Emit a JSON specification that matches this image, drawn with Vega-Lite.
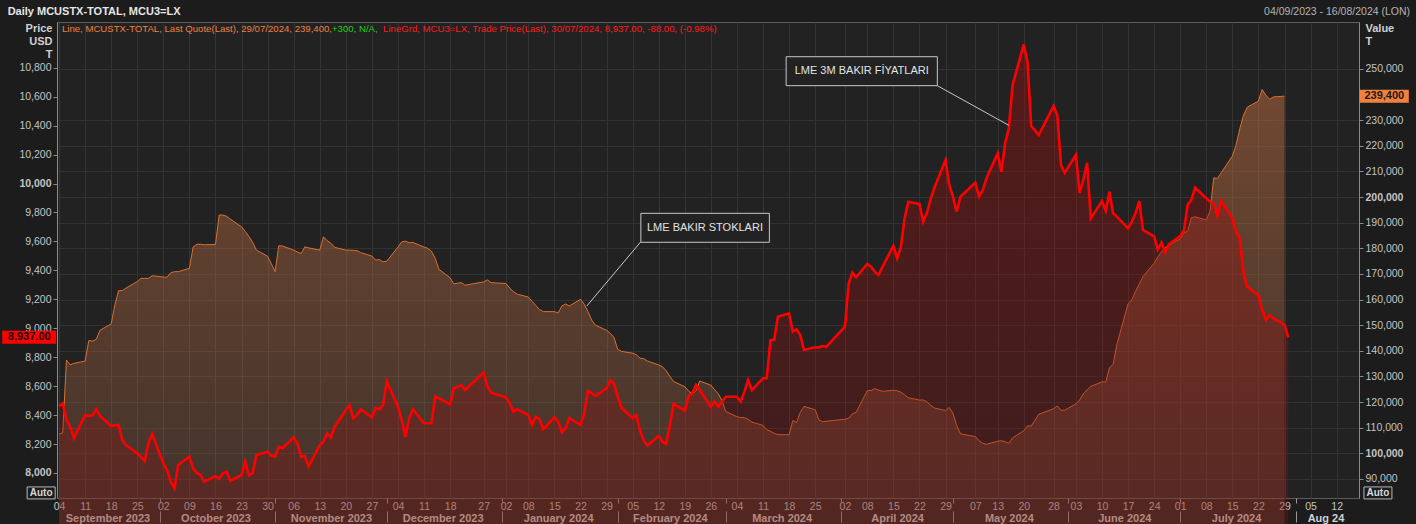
{
  "$schema": "https://vega.github.io/schema/vega-lite/v6.json",
  "width": 1302,
  "height": 476,
  "autosize": "none",
  "padding": {"left": 57, "top": 22, "right": 57, "bottom": 26},
  "background": "#1c1c1c",
  "config": {
    "view": {"fill": "#222222", "stroke": "#5c5c5c"},
    "axis": {"labelFont": "Liberation Sans", "titleFont": "Liberation Sans", "labelColor": "#c4c4c4", "labelFontSize": 10.5, "domainColor": "#8a8a8a", "tickColor": "#8a8a8a", "gridColor": "#333333"},
    "text": {"font": "Liberation Sans"}
  },
  "datasets": {
    "main": [
      {"d":"2023-09-04","p":8463,"s":107500},{"d":"2023-09-05","p":8481,"s":108000},{"d":"2023-09-06","p":8366,"s":136400},{"d":"2023-09-07","p":8320,"s":134500},{"d":"2023-09-08","p":8240,"s":135100},
      {"d":"2023-09-11","p":8401,"s":136000},{"d":"2023-09-12","p":8394,"s":144000},{"d":"2023-09-13","p":8399,"s":143800},{"d":"2023-09-14","p":8440,"s":144500},{"d":"2023-09-15","p":8394,"s":148000},
      {"d":"2023-09-18","p":8325,"s":150500},{"d":"2023-09-19","p":8330,"s":158000},{"d":"2023-09-20","p":8332,"s":163500},{"d":"2023-09-21","p":8228,"s":163500},{"d":"2023-09-22","p":8193,"s":164500},
      {"d":"2023-09-25","p":8136,"s":167000},{"d":"2023-09-26","p":8110,"s":168300},{"d":"2023-09-27","p":8083,"s":168300},{"d":"2023-09-28","p":8205,"s":168300},{"d":"2023-09-29","p":8269,"s":169300},
      {"d":"2023-10-02","p":8067,"s":168800},{"d":"2023-10-03","p":8021,"s":168700},{"d":"2023-10-04","p":7940,"s":170500},{"d":"2023-10-05","p":7894,"s":170900},{"d":"2023-10-06","p":8055,"s":170900},
      {"d":"2023-10-09","p":8113,"s":172200},{"d":"2023-10-10","p":8032,"s":180500},{"d":"2023-10-11","p":8000,"s":181600},{"d":"2023-10-12","p":7986,"s":181600},{"d":"2023-10-13","p":7940,"s":181400},
      {"d":"2023-10-16","p":7979,"s":181500},{"d":"2023-10-17","p":7959,"s":193000},{"d":"2023-10-18","p":7998,"s":193000},{"d":"2023-10-19","p":8009,"s":192500},{"d":"2023-10-20","p":7945,"s":191400},
      {"d":"2023-10-23","p":7986,"s":188400},{"d":"2023-10-24","p":8078,"s":186600},{"d":"2023-10-25","p":7984,"s":184600},{"d":"2023-10-26","p":7998,"s":182300},{"d":"2023-10-27","p":8124,"s":179300},
      {"d":"2023-10-30","p":8147,"s":176900},{"d":"2023-10-31","p":8120,"s":174000},{"d":"2023-11-01","p":8113,"s":170900},{"d":"2023-11-02","p":8182,"s":181000},{"d":"2023-11-03","p":8171,"s":180900},
      {"d":"2023-11-06","p":8247,"s":179300},{"d":"2023-11-07","p":8205,"s":178600},{"d":"2023-11-08","p":8113,"s":178000},{"d":"2023-11-09","p":8117,"s":180600},{"d":"2023-11-10","p":8044,"s":180200},
      {"d":"2023-11-13","p":8193,"s":179300},{"d":"2023-11-14","p":8216,"s":184500},{"d":"2023-11-15","p":8274,"s":183000},{"d":"2023-11-16","p":8244,"s":182000},{"d":"2023-11-17","p":8320,"s":180400},
      {"d":"2023-11-20","p":8435,"s":179300},{"d":"2023-11-21","p":8468,"s":179300},{"d":"2023-11-22","p":8378,"s":179200},{"d":"2023-11-23","p":8401,"s":179100},{"d":"2023-11-24","p":8440,"s":178300},
      {"d":"2023-11-27","p":8385,"s":177000},{"d":"2023-11-28","p":8449,"s":175400},{"d":"2023-11-29","p":8440,"s":175600},{"d":"2023-11-30","p":8470,"s":174700},{"d":"2023-12-01","p":8631,"s":175000},
      {"d":"2023-12-04","p":8458,"s":180500},{"d":"2023-12-05","p":8366,"s":182500},{"d":"2023-12-06","p":8251,"s":182800},{"d":"2023-12-07","p":8378,"s":182200},{"d":"2023-12-08","p":8440,"s":182300},
      {"d":"2023-12-11","p":8343,"s":180500},{"d":"2023-12-12","p":8343,"s":180000},{"d":"2023-12-13","p":8343,"s":178800},{"d":"2023-12-14","p":8527,"s":176100},{"d":"2023-12-15","p":8516,"s":171800},
      {"d":"2023-12-18","p":8475,"s":168500},{"d":"2023-12-19","p":8585,"s":166100},{"d":"2023-12-20","p":8596,"s":166400},{"d":"2023-12-21","p":8606,"s":166600},{"d":"2023-12-22","p":8573,"s":165600},
      {"d":"2023-12-27","p":8693,"s":166900},{"d":"2023-12-28","p":8600,"s":167700},{"d":"2023-12-29","p":8555,"s":166600},
      {"d":"2024-01-02","p":8523,"s":166300},{"d":"2024-01-03","p":8481,"s":164500},{"d":"2024-01-04","p":8424,"s":163100},{"d":"2024-01-05","p":8440,"s":162100},
      {"d":"2024-01-08","p":8400,"s":161000},{"d":"2024-01-09","p":8332,"s":159300},{"d":"2024-01-10","p":8389,"s":157700},{"d":"2024-01-11","p":8371,"s":156100},{"d":"2024-01-12","p":8302,"s":155300},
      {"d":"2024-01-15","p":8385,"s":155300},{"d":"2024-01-16","p":8354,"s":154800},{"d":"2024-01-17","p":8281,"s":157500},{"d":"2024-01-18","p":8309,"s":158300},{"d":"2024-01-19","p":8378,"s":157500},
      {"d":"2024-01-22","p":8332,"s":160100},{"d":"2024-01-23","p":8412,"s":158200},{"d":"2024-01-24","p":8569,"s":155300},{"d":"2024-01-25","p":8551,"s":152000},{"d":"2024-01-26","p":8532,"s":150000},
      {"d":"2024-01-29","p":8585,"s":148000},{"d":"2024-01-30","p":8642,"s":146800},{"d":"2024-01-31","p":8615,"s":145200},{"d":"2024-02-01","p":8527,"s":140600},{"d":"2024-02-02","p":8451,"s":139800},
      {"d":"2024-02-05","p":8378,"s":139100},{"d":"2024-02-06","p":8401,"s":138500},{"d":"2024-02-07","p":8292,"s":137100},{"d":"2024-02-08","p":8223,"s":136900},{"d":"2024-02-09","p":8189,"s":136000},
      {"d":"2024-02-12","p":8256,"s":134500},{"d":"2024-02-13","p":8216,"s":133800},{"d":"2024-02-14","p":8200,"s":132200},{"d":"2024-02-15","p":8332,"s":130000},{"d":"2024-02-16","p":8477,"s":128000},
      {"d":"2024-02-19","p":8430,"s":126000},{"d":"2024-02-20","p":8532,"s":124300},{"d":"2024-02-21","p":8551,"s":123200},{"d":"2024-02-22","p":8608,"s":124300},{"d":"2024-02-23","p":8573,"s":128200},
      {"d":"2024-02-26","p":8458,"s":126600},{"d":"2024-02-27","p":8493,"s":124800},{"d":"2024-02-28","p":8458,"s":123200},{"d":"2024-02-29","p":8493,"s":120500},{"d":"2024-03-01","p":8527,"s":116300},
      {"d":"2024-03-04","p":8527,"s":114300},{"d":"2024-03-05","p":8493,"s":114000},{"d":"2024-03-06","p":8562,"s":113900},{"d":"2024-03-07","p":8642,"s":113300},{"d":"2024-03-08","p":8573,"s":112200},
      {"d":"2024-03-11","p":8654,"s":110900},{"d":"2024-03-12","p":8654,"s":109200},{"d":"2024-03-13","p":8919,"s":108600},{"d":"2024-03-14","p":8919,"s":107800},{"d":"2024-03-15","p":9080,"s":107300},
      {"d":"2024-03-18","p":9103,"s":107200},{"d":"2024-03-19","p":8976,"s":112800},{"d":"2024-03-20","p":8993,"s":112000},{"d":"2024-03-21","p":8953,"s":116000},{"d":"2024-03-22","p":8850,"s":118300},
      {"d":"2024-03-25","p":8868,"s":117000},{"d":"2024-03-26","p":8868,"s":113100},{"d":"2024-03-27","p":8877,"s":112300},{"d":"2024-03-28","p":8872,"s":112500},
      {"d":"2024-04-02","p":9011,"s":113300},{"d":"2024-04-03","p":9310,"s":113700},{"d":"2024-04-04","p":9384,"s":115400},{"d":"2024-04-05","p":9352,"s":116000},
      {"d":"2024-04-08","p":9444,"s":124500},{"d":"2024-04-09","p":9425,"s":124500},{"d":"2024-04-10","p":9391,"s":125200},{"d":"2024-04-11","p":9368,"s":124700},{"d":"2024-04-12","p":9421,"s":124200},
      {"d":"2024-04-15","p":9568,"s":124600},{"d":"2024-04-16","p":9483,"s":124400},{"d":"2024-04-17","p":9559,"s":123900},{"d":"2024-04-18","p":9759,"s":122800},{"d":"2024-04-19","p":9874,"s":121700},
      {"d":"2024-04-22","p":9858,"s":120800},{"d":"2024-04-23","p":9736,"s":120800},{"d":"2024-04-24","p":9798,"s":120100},{"d":"2024-04-25","p":9892,"s":118800},{"d":"2024-04-26","p":9970,"s":117700},
      {"d":"2024-04-29","p":10162,"s":116700},{"d":"2024-04-30","p":9990,"s":117900},{"d":"2024-05-01","p":9909,"s":115600},{"d":"2024-05-02","p":9805,"s":110800},{"d":"2024-05-03","p":9909,"s":107600},
      {"d":"2024-05-07","p":10006,"s":106500},{"d":"2024-05-08","p":9909,"s":104900},{"d":"2024-05-09","p":9955,"s":103900},{"d":"2024-05-10","p":10036,"s":103500},
      {"d":"2024-05-13","p":10209,"s":104700},{"d":"2024-05-14","p":10081,"s":104900},{"d":"2024-05-15","p":10278,"s":104500},{"d":"2024-05-16","p":10381,"s":103900},{"d":"2024-05-17","p":10680,"s":106000},
      {"d":"2024-05-20","p":10961,"s":108800},{"d":"2024-05-21","p":10841,"s":110700},{"d":"2024-05-22","p":10397,"s":110600},{"d":"2024-05-23","p":10369,"s":112900},{"d":"2024-05-24","p":10335,"s":115200},
      {"d":"2024-05-28","p":10535,"s":117400},{"d":"2024-05-29","p":10473,"s":118500},{"d":"2024-05-30","p":10128,"s":116800},{"d":"2024-05-31","p":10074,"s":116800},
      {"d":"2024-06-03","p":10197,"s":119300},{"d":"2024-06-04","p":9936,"s":120800},{"d":"2024-06-05","p":10029,"s":123300},{"d":"2024-06-06","p":10144,"s":124700},{"d":"2024-06-07","p":9759,"s":126100},
      {"d":"2024-06-10","p":9879,"s":127900},{"d":"2024-06-11","p":9812,"s":127800},{"d":"2024-06-12","p":9943,"s":133300},{"d":"2024-06-13","p":9794,"s":134800},{"d":"2024-06-14","p":9771,"s":142500},
      {"d":"2024-06-17","p":9690,"s":158300},{"d":"2024-06-18","p":9736,"s":159900},{"d":"2024-06-19","p":9794,"s":163200},{"d":"2024-06-20","p":9879,"s":166000},{"d":"2024-06-21","p":9679,"s":169000},
      {"d":"2024-06-24","p":9635,"s":174200},{"d":"2024-06-25","p":9545,"s":176700},{"d":"2024-06-26","p":9591,"s":178700},{"d":"2024-06-27","p":9522,"s":180300},{"d":"2024-06-28","p":9582,"s":181200},
      {"d":"2024-07-01","p":9637,"s":183700},{"d":"2024-07-02","p":9674,"s":186000},{"d":"2024-07-03","p":9851,"s":186700},{"d":"2024-07-04","p":9886,"s":192000},{"d":"2024-07-05","p":9971,"s":192300},
      {"d":"2024-07-08","p":9898,"s":191100},{"d":"2024-07-09","p":9874,"s":194500},{"d":"2024-07-10","p":9863,"s":207500},{"d":"2024-07-11","p":9775,"s":207300},{"d":"2024-07-12","p":9879,"s":209500},
      {"d":"2024-07-15","p":9759,"s":216000},{"d":"2024-07-16","p":9667,"s":220300},{"d":"2024-07-17","p":9621,"s":226700},{"d":"2024-07-18","p":9380,"s":232000},{"d":"2024-07-19","p":9287,"s":235100},
      {"d":"2024-07-22","p":9230,"s":237500},{"d":"2024-07-23","p":9126,"s":242000},{"d":"2024-07-24","p":9057,"s":239800},{"d":"2024-07-25","p":9091,"s":238200},{"d":"2024-07-26","p":9069,"s":239100},
      {"d":"2024-07-29","p":9025,"s":239400},{"d":"2024-07-30","p":8937}
    ]
  },
  "data": {"name": "main"},
  "layer": [
    {
      "mark": {"type": "area", "fill": {"gradient": "linear", "x1": 0, "y1": 0, "x2": 0, "y2": 1, "stops": [{"offset": 0, "color": "rgba(180,104,62,0.55)"}, {"offset": 1, "color": "rgba(150,95,70,0.12)"}]}},
      "encoding": {
        "x": {"field": "d", "type": "temporal", "scale": {"type": "utc", "nice": false, "domain": [{"year": 2023, "month": 9, "date": 3, "hours": 11, "utc": true}, {"year": 2024, "month": 8, "date": 18, "utc": true}]},
          "axis": {"orient": "bottom", "title": null, "grid": true, "gridColor": "#343434", "ticks": false, "domain": false, "labelPadding": 3, "labelFontSize": 10.5, "labelColor": "#c4c4c4", "labelOverlap": false, "labelFlush": false,
            "labelExpr": "utcFormat(datum.value, '%d')",
            "values": [
              {"year":2023,"month":9,"date":4,"utc":true},{"year":2023,"month":9,"date":11,"utc":true},{"year":2023,"month":9,"date":18,"utc":true},{"year":2023,"month":9,"date":25,"utc":true},
              {"year":2023,"month":10,"date":2,"utc":true},{"year":2023,"month":10,"date":9,"utc":true},{"year":2023,"month":10,"date":16,"utc":true},{"year":2023,"month":10,"date":23,"utc":true},{"year":2023,"month":10,"date":30,"utc":true},
              {"year":2023,"month":11,"date":6,"utc":true},{"year":2023,"month":11,"date":13,"utc":true},{"year":2023,"month":11,"date":20,"utc":true},{"year":2023,"month":11,"date":27,"utc":true},
              {"year":2023,"month":12,"date":4,"utc":true},{"year":2023,"month":12,"date":11,"utc":true},{"year":2023,"month":12,"date":18,"utc":true},{"year":2023,"month":12,"date":27,"utc":true},
              {"year":2024,"month":1,"date":2,"utc":true},{"year":2024,"month":1,"date":8,"utc":true},{"year":2024,"month":1,"date":15,"utc":true},{"year":2024,"month":1,"date":22,"utc":true},{"year":2024,"month":1,"date":29,"utc":true},
              {"year":2024,"month":2,"date":5,"utc":true},{"year":2024,"month":2,"date":12,"utc":true},{"year":2024,"month":2,"date":19,"utc":true},{"year":2024,"month":2,"date":26,"utc":true},
              {"year":2024,"month":3,"date":4,"utc":true},{"year":2024,"month":3,"date":11,"utc":true},{"year":2024,"month":3,"date":18,"utc":true},{"year":2024,"month":3,"date":25,"utc":true},
              {"year":2024,"month":4,"date":2,"utc":true},{"year":2024,"month":4,"date":8,"utc":true},{"year":2024,"month":4,"date":15,"utc":true},{"year":2024,"month":4,"date":22,"utc":true},{"year":2024,"month":4,"date":29,"utc":true},
              {"year":2024,"month":5,"date":7,"utc":true},{"year":2024,"month":5,"date":13,"utc":true},{"year":2024,"month":5,"date":20,"utc":true},{"year":2024,"month":5,"date":28,"utc":true},
              {"year":2024,"month":6,"date":3,"utc":true},{"year":2024,"month":6,"date":10,"utc":true},{"year":2024,"month":6,"date":17,"utc":true},{"year":2024,"month":6,"date":24,"utc":true},
              {"year":2024,"month":7,"date":1,"utc":true},{"year":2024,"month":7,"date":8,"utc":true},{"year":2024,"month":7,"date":15,"utc":true},{"year":2024,"month":7,"date":22,"utc":true},{"year":2024,"month":7,"date":29,"utc":true},
              {"year":2024,"month":8,"date":5,"utc":true},{"year":2024,"month":8,"date":12,"utc":true}
            ]}},
        "y": {"field": "s", "type": "quantitative", "scale": {"domain": [82553, 268345], "nice": false, "zero": false},
          "axis": {"orient": "right", "values": [90000,100000,110000,120000,130000,140000,150000,160000,170000,180000,190000,200000,210000,220000,230000,250000], "format": ",d", "grid": true, "gridColor": "#323232", "tickSize": 4, "labelPadding": 2, "labelColor": "#c4c4c4", "labelFontSize": 10.5,
            "labelFontWeight": {"condition": {"test": "datum.value % 100000 == 0", "value": "bold"}, "value": "normal"},
            "title": ["Value", "T"], "titleAngle": 0, "titleAlign": "left", "titleBaseline": "top", "titleX": 6, "titleY": 0, "titleFontSize": 11, "titleFontWeight": "bold", "titleColor": "#d0d0d0", "titleLineHeight": 13}}
      }
    },
    {
      "mark": {"type": "line", "color": "#dd6e2e", "strokeWidth": 1},
      "encoding": {
        "x": {"field": "d", "type": "temporal", "axis": null},
        "y": {"field": "s", "type": "quantitative", "scale": {"domain": [82553, 268345], "nice": false, "zero": false}, "axis": null}
      }
    },
    {
      "data": {"values": [{"v": 239400}]},
      "mark": {"type": "rect", "width": 49, "height": 13, "fill": "#f3803c"},
      "encoding": {
        "x": {"datum": {"year": 2024, "month": 8, "date": 24, "hours": 19, "utc": true}, "type": "temporal", "axis": null},
        "y": {"field": "v", "type": "quantitative", "scale": {"domain": [82553, 268345], "nice": false, "zero": false}, "axis": null}
      }
    },
    {
      "data": {"values": [{"v": 239400}]},
      "mark": {"type": "text", "fontSize": 11, "fontWeight": "bold", "color": "#1a1a1a", "align": "center", "baseline": "middle"},
      "encoding": {
        "x": {"datum": {"year": 2024, "month": 8, "date": 24, "hours": 19, "utc": true}, "type": "temporal", "axis": null},
        "y": {"field": "v", "type": "quantitative", "scale": {"domain": [82553, 268345], "nice": false, "zero": false}, "axis": null},
        "text": {"field": "v", "type": "quantitative", "format": ",d"}
      }
    },
    {
      "mark": {"type": "area", "fill": {"gradient": "linear", "x1": 0, "y1": 0, "x2": 0, "y2": 1, "stops": [{"offset": 0, "color": "rgba(150,15,15,0.45)"}, {"offset": 0.5, "color": "rgba(130,20,20,0.15)"}, {"offset": 1, "color": "rgba(110,20,20,0.0)"}]}},
      "encoding": {
        "x": {"field": "d", "type": "temporal", "axis": null},
        "y": {"field": "p", "type": "quantitative", "scale": {"domain": [7827, 11116], "nice": false, "zero": false}, "axis": null}
      }
    },
    {
      "mark": {"type": "line", "color": "#ff0000", "strokeWidth": 2.6},
      "encoding": {
        "x": {"field": "d", "type": "temporal", "axis": null},
        "y": {"field": "p", "type": "quantitative", "scale": {"domain": [7827, 11116], "nice": false, "zero": false},
          "axis": {"orient": "left", "values": [8000,8200,8400,8600,8800,9000,9200,9400,9600,9800,10000,10200,10400,10600,10800], "format": ",d", "grid": false, "tickSize": 4, "labelPadding": 2, "labelColor": "#c4c4c4", "labelFontSize": 10.5,
            "labelFontWeight": {"condition": {"test": "datum.value % 2000 == 0", "value": "bold"}, "value": "normal"},
            "title": ["Price", "USD", "T"], "titleAngle": 0, "titleAlign": "right", "titleBaseline": "top", "titleX": -5, "titleY": 0, "titleFontSize": 11, "titleFontWeight": "bold", "titleColor": "#d0d0d0", "titleLineHeight": 13}}
      }
    },
    {
      "data": {"values": [{"label": "LME 3M BAKIR FİYATLARI"}]},
      "mark": {"type": "rule", "color": "#c8c8c8", "strokeWidth": 1},
      "encoding": {"x": {"datum": {"year": 2024, "month": 4, "date": 26, "hours": 19, "utc": true}, "type": "temporal", "axis": null}, "x2": {"datum": {"year": 2024, "month": 5, "date": 16, "utc": true}},
        "y": {"datum": 10676, "type": "quantitative", "scale": {"domain": [7827, 11116], "nice": false, "zero": false}, "axis": null}, "y2": {"datum": 10402}}
    },
    {
      "data": {"values": [{"label": "LME 3M BAKIR FİYATLARI"}]},
      "mark": {"type": "rect", "fill": "#222222", "stroke": "#c8c8c8", "strokeWidth": 1},
      "encoding": {"x": {"datum": {"year": 2024, "month": 3, "date": 17, "hours": 5, "utc": true}, "type": "temporal", "axis": null}, "x2": {"datum": {"year": 2024, "month": 4, "date": 26, "hours": 19, "utc": true}},
        "y": {"datum": 10876, "type": "quantitative", "scale": {"domain": [7827, 11116], "nice": false, "zero": false}, "axis": null}, "y2": {"datum": 10676}}
    },
    {
      "data": {"values": [{"label": "LME 3M BAKIR FİYATLARI"}]},
      "mark": {"type": "text", "fontSize": 11, "color": "#e2e2e2", "align": "center", "baseline": "middle"},
      "encoding": {"x": {"datum": {"year": 2024, "month": 4, "date": 6, "hours": 12, "utc": true}, "type": "temporal", "axis": null},
        "y": {"datum": 10776, "type": "quantitative", "scale": {"domain": [7827, 11116], "nice": false, "zero": false}, "axis": null}, "text": {"field": "label"}}
    },
    {
      "data": {"values": [{"label": "LME BAKIR STOKLARI"}]},
      "mark": {"type": "rule", "color": "#c8c8c8", "strokeWidth": 1},
      "encoding": {"x": {"datum": {"year": 2024, "month": 2, "date": 7, "hours": 5, "utc": true}, "type": "temporal", "axis": null}, "x2": {"datum": {"year": 2024, "month": 1, "date": 23, "hours": 17, "utc": true}},
        "y": {"datum": 9598, "type": "quantitative", "scale": {"domain": [7827, 11116], "nice": false, "zero": false}, "axis": null}, "y2": {"datum": 9154}}
    },
    {
      "data": {"values": [{"label": "LME BAKIR STOKLARI"}]},
      "mark": {"type": "rect", "fill": "#222222", "stroke": "#c8c8c8", "strokeWidth": 1},
      "encoding": {"x": {"datum": {"year": 2024, "month": 2, "date": 7, "hours": 5, "utc": true}, "type": "temporal", "axis": null}, "x2": {"datum": {"year": 2024, "month": 3, "date": 12, "hours": 17, "utc": true}},
        "y": {"datum": 9794, "type": "quantitative", "scale": {"domain": [7827, 11116], "nice": false, "zero": false}, "axis": null}, "y2": {"datum": 9594}}
    },
    {
      "data": {"values": [{"label": "LME BAKIR STOKLARI"}]},
      "mark": {"type": "text", "fontSize": 11, "color": "#e2e2e2", "align": "center", "baseline": "middle"},
      "encoding": {"x": {"datum": {"year": 2024, "month": 2, "date": 24, "hours": 10, "utc": true}, "type": "temporal", "axis": null},
        "y": {"datum": 9694, "type": "quantitative", "scale": {"domain": [7827, 11116], "nice": false, "zero": false}, "axis": null}, "text": {"field": "label"}}
    },
    {
      "data": {"values": [{"t": "Line, MCUSTX-TOTAL, Last Quote(Last), 29/07/2024, 239,400,"}]},
      "mark": {"type": "text", "fontSize": 9.6, "color": "#f0813f", "align": "left", "baseline": "middle"},
      "encoding": {"x": {"datum": {"year": 2023, "month": 9, "date": 4, "hours": 19, "utc": true}, "type": "temporal", "axis": null},
        "y": {"datum": 11068, "type": "quantitative", "scale": {"domain": [7827, 11116], "nice": false, "zero": false}, "axis": null}, "text": {"field": "t"}}
    },
    {
      "data": {"values": [{"t": "+300, N/A,"}]},
      "mark": {"type": "text", "fontSize": 9.6, "color": "#19d219", "align": "left", "baseline": "middle"},
      "encoding": {"x": {"datum": {"year": 2023, "month": 11, "date": 16, "hours": 7, "utc": true}, "type": "temporal", "axis": null},
        "y": {"datum": 11068, "type": "quantitative", "scale": {"domain": [7827, 11116], "nice": false, "zero": false}, "axis": null}, "text": {"field": "t"}}
    },
    {
      "data": {"values": [{"t": "LineGrd, MCU3=LX, Trade Price(Last), 30/07/2024, 8,937.00, -88.00, (-0.98%)"}]},
      "mark": {"type": "text", "fontSize": 9.6, "color": "#ff1a1a", "align": "left", "baseline": "middle"},
      "encoding": {"x": {"datum": {"year": 2023, "month": 11, "date": 30, "utc": true}, "type": "temporal", "axis": null},
        "y": {"datum": 11068, "type": "quantitative", "scale": {"domain": [7827, 11116], "nice": false, "zero": false}, "axis": null}, "text": {"field": "t"}}
    },
    {
      "data": {"values": [{"v": 8937}]},
      "mark": {"type": "rect", "width": 54, "height": 13, "fill": "#ff0000"},
      "encoding": {"x": {"datum": {"year": 2023, "month": 8, "date": 27, "utc": true}, "type": "temporal", "axis": null},
        "y": {"field": "v", "type": "quantitative", "scale": {"domain": [7827, 11116], "nice": false, "zero": false}, "axis": null}}
    },
    {
      "data": {"values": [{"v": 8937}]},
      "mark": {"type": "text", "fontSize": 11, "fontWeight": "bold", "color": "#1a0000", "align": "center", "baseline": "middle"},
      "encoding": {"x": {"datum": {"year": 2023, "month": 8, "date": 27, "utc": true}, "type": "temporal", "axis": null},
        "y": {"field": "v", "type": "quantitative", "scale": {"domain": [7827, 11116], "nice": false, "zero": false}, "axis": null}, "text": {"field": "v", "type": "quantitative", "format": ",.2f"}}
    },
    {
      "data": {"values": [{"t": "04/09/2023 - 16/08/2024 (LON)"}]},
      "mark": {"type": "text", "fontSize": 10.5, "color": "#b4b4b4", "align": "right", "baseline": "middle"},
      "encoding": {"x": {"datum": {"year": 2024, "month": 8, "date": 31, "hours": 17, "utc": true}, "type": "temporal", "axis": null},
        "y": {"datum": 11185, "type": "quantitative", "scale": {"domain": [7827, 11116], "nice": false, "zero": false}, "axis": null}, "text": {"field": "t"}}
    },
    {
      "data": {"values": [{"t": "Daily MCUSTX-TOTAL, MCU3=LX"}]},
      "mark": {"type": "text", "fontSize": 11, "fontWeight": "bold", "color": "#e6e6e6", "align": "left", "baseline": "middle"},
      "encoding": {"x": {"datum": {"year": 2023, "month": 8, "date": 21, "hours": 5, "utc": true}, "type": "temporal", "axis": null},
        "y": {"datum": 11185, "type": "quantitative", "scale": {"domain": [7827, 11116], "nice": false, "zero": false}, "axis": null}, "text": {"field": "t"}}
    },
    {
      "data": {"values": [{"t": "Auto"}]},
      "mark": {"type": "rect", "width": 28, "height": 12, "fill": "#1c1c1c", "stroke": "#b8b8b8", "strokeWidth": 1},
      "encoding": {"x": {"datum": {"year": 2023, "month": 8, "date": 30, "hours": 5, "utc": true}, "type": "temporal", "axis": null},
        "y": {"datum": 7862, "type": "quantitative", "scale": {"domain": [7827, 11116], "nice": false, "zero": false}, "axis": null}}
    },
    {
      "data": {"values": [{"t": "Auto"}]},
      "mark": {"type": "text", "fontSize": 10, "fontWeight": "bold", "color": "#d8d8d8", "align": "center", "baseline": "middle"},
      "encoding": {"x": {"datum": {"year": 2023, "month": 8, "date": 30, "hours": 5, "utc": true}, "type": "temporal", "axis": null},
        "y": {"datum": 7862, "type": "quantitative", "scale": {"domain": [7827, 11116], "nice": false, "zero": false}, "axis": null}, "text": {"field": "t"}}
    },
    {
      "data": {"values": [{"t": "Auto"}]},
      "mark": {"type": "rect", "width": 28, "height": 12, "fill": "#1c1c1c", "stroke": "#b8b8b8", "strokeWidth": 1},
      "encoding": {"x": {"datum": {"year": 2024, "month": 8, "date": 23, "hours": 2, "utc": true}, "type": "temporal", "axis": null},
        "y": {"datum": 7862, "type": "quantitative", "scale": {"domain": [7827, 11116], "nice": false, "zero": false}, "axis": null}}
    },
    {
      "data": {"values": [{"t": "Auto"}]},
      "mark": {"type": "text", "fontSize": 10, "fontWeight": "bold", "color": "#d8d8d8", "align": "center", "baseline": "middle"},
      "encoding": {"x": {"datum": {"year": 2024, "month": 8, "date": 23, "hours": 2, "utc": true}, "type": "temporal", "axis": null},
        "y": {"datum": 7862, "type": "quantitative", "scale": {"domain": [7827, 11116], "nice": false, "zero": false}, "axis": null}, "text": {"field": "t"}}
    },
    {
      "data": {"values": [
        {"m": "2023-09-17"}, {"m": "2023-10-16"}, {"m": "2023-11-16"}, {"m": "2023-12-16"}, {"m": "2024-01-16"}, {"m": "2024-02-15"},
        {"m": "2024-03-16"}, {"m": "2024-04-16"}, {"m": "2024-05-16"}, {"m": "2024-06-16"}, {"m": "2024-07-16"}, {"m": "2024-08-09"}
      ]},
      "mark": {"type": "rule", "opacity": 0},
      "encoding": {
        "x": {"field": "m", "type": "temporal",
          "axis": {"orient": "bottom", "title": null, "grid": false, "ticks": false, "domain": false, "offset": 14, "labelPadding": 0, "labelFontSize": 11, "labelFontWeight": "bold", "labelColor": "#d2d2d2", "labelOverlap": false, "labelFlush": false,
            "labelExpr": "utcFormat(datum.value, '%m') == '08' ? 'Aug 24' : utcFormat(datum.value, '%B %Y')",
            "values": [
              {"year":2023,"month":9,"date":17,"utc":true},{"year":2023,"month":10,"date":16,"utc":true},{"year":2023,"month":11,"date":16,"utc":true},{"year":2023,"month":12,"date":16,"utc":true},
              {"year":2024,"month":1,"date":16,"utc":true},{"year":2024,"month":2,"date":15,"utc":true},{"year":2024,"month":3,"date":16,"utc":true},{"year":2024,"month":4,"date":16,"utc":true},
              {"year":2024,"month":5,"date":16,"utc":true},{"year":2024,"month":6,"date":16,"utc":true},{"year":2024,"month":7,"date":16,"utc":true},{"year":2024,"month":8,"date":9,"utc":true}
            ]}}
      }
    },
    {
      "data": {"values": [{"m": "2023-10-01"}, {"m": "2024-08-01"}]},
      "mark": {"type": "rule", "opacity": 0},
      "encoding": {
        "x": {"field": "m", "type": "temporal",
          "axis": {"orient": "bottom", "title": null, "grid": false, "labels": false, "domain": false, "ticks": true, "tickSize": 11, "offset": 13, "tickColor": "#9a9a9a",
            "values": [
              {"year":2023,"month":10,"date":1,"utc":true},{"year":2023,"month":11,"date":1,"utc":true},{"year":2023,"month":12,"date":1,"utc":true},{"year":2024,"month":1,"date":1,"utc":true},
              {"year":2024,"month":2,"date":1,"utc":true},{"year":2024,"month":3,"date":1,"utc":true},{"year":2024,"month":4,"date":1,"utc":true},{"year":2024,"month":5,"date":1,"utc":true},
              {"year":2024,"month":6,"date":1,"utc":true},{"year":2024,"month":7,"date":1,"utc":true},{"year":2024,"month":8,"date":1,"utc":true}
            ]}}
      }
    },
    {
      "data": {"values": [{"m": "2023-10-01"}, {"m": "2024-08-01"}]},
      "mark": {"type": "rule", "opacity": 0},
      "encoding": {
        "x": {"field": "m", "type": "temporal",
          "axis": {"orient": "bottom", "title": null, "grid": false, "labels": false, "domain": false, "ticks": true, "tickSize": 5, "offset": 0, "tickColor": "#9a9a9a",
            "values": [
              {"year":2023,"month":10,"date":1,"utc":true},{"year":2023,"month":11,"date":1,"utc":true},{"year":2023,"month":12,"date":1,"utc":true},{"year":2024,"month":1,"date":1,"utc":true},
              {"year":2024,"month":2,"date":1,"utc":true},{"year":2024,"month":3,"date":1,"utc":true},{"year":2024,"month":4,"date":1,"utc":true},{"year":2024,"month":5,"date":1,"utc":true},
              {"year":2024,"month":6,"date":1,"utc":true},{"year":2024,"month":7,"date":1,"utc":true},{"year":2024,"month":8,"date":1,"utc":true}
            ]}}
      }
    }
  ],
  "resolve": {"scale": {"y": "independent"}, "axis": {"x": "independent", "y": "independent"}}
}
